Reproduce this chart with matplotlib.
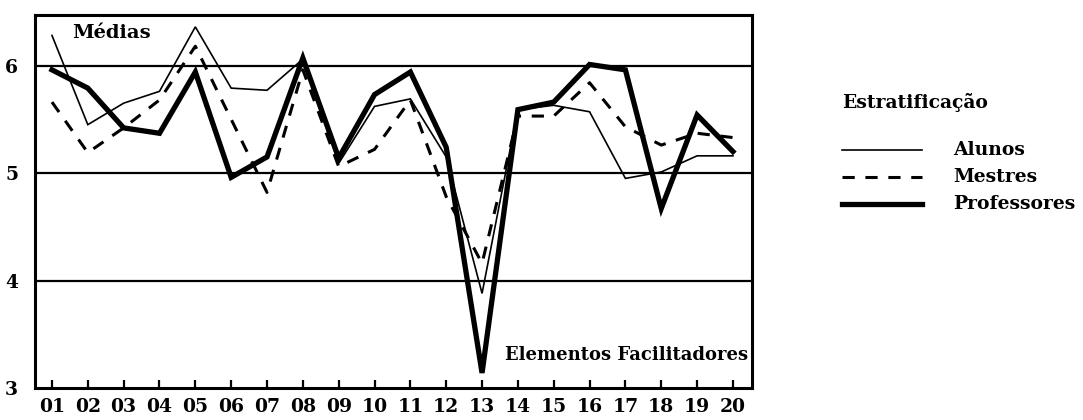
import matplotlib
matplotlib.use("Agg")
import matplotlib.pyplot as plt
from matplotlib.lines import Line2D

plt.rcParams['font.family'] = ['DejaVu Serif']

itens = ['01', '02', '03', '04', '05', '06', '07', '08', '09', '10',
         '11', '12', '13', '14', '15', '16', '17', '18', '19', '20']
alunos = [6.28, 5.45, 5.65, 5.76, 6.36, 5.79, 5.77, 6.06, 5.09, 5.62,
          5.69, 5.15, 3.88, 5.59, 5.63, 5.57, 4.95, 5.01, 5.16, 5.16]
mestres = [5.66, 5.19, 5.42, 5.68, 6.18, 5.50, 4.82, 5.96, 5.06, 5.22,
           5.68, 4.78, 4.16, 5.53, 5.53, 5.84, 5.43, 5.26, 5.37, 5.33]
professores = [5.96, 5.79, 5.42, 5.37, 5.94, 4.96, 5.15, 6.07, 5.14, 5.73,
               5.94, 5.24, 3.14, 5.59, 5.66, 6.01, 5.96, 4.67, 5.54, 5.20]

x = list(range(1, len(itens) + 1))

fig = plt.figure(figsize=(10.83, 4.2), dpi=100)
ax = fig.add_axes([0.0323, 0.0762, 0.662, 0.888])

for yv in [4, 5, 6]:
    ax.axhline(yv, color='k', lw=1.6, zorder=1)

estilos = [
    ('Alunos', alunos, dict(lw=1.2, ls='-')),
    ('Mestres', mestres, dict(lw=2.2, ls=(0, (4, 3.5)))),
    ('Professores', professores, dict(lw=3.8, ls='-')),
]
for nome, vals, st in estilos:
    ax.plot(x, vals, color='k', zorder=3, solid_joinstyle='miter', **st)

ax.set_xlim(0.526, 20.53)
ax.set_ylim(3, 6.47)
ax.set_xticks(x)
ax.set_xticklabels(itens)
ax.set_yticks([3, 4, 5, 6])
ax.tick_params(axis='x', direction='in', length=6, width=1.6, pad=7,
               labelsize=13.5)
ax.tick_params(axis='y', length=0, pad=12, labelsize=13.5)
for lab in ax.get_xticklabels() + ax.get_yticklabels():
    lab.set_fontweight('bold')
for sp in ax.spines.values():
    sp.set_linewidth(2.2)

ax.text(0.052, 0.952, 'Médias', transform=ax.transAxes, fontsize=14,
        fontweight='bold', ha='left', va='center')
ax.text(0.994, 0.088, 'Elementos Facilitadores', transform=ax.transAxes,
        fontsize=13, fontweight='bold', ha='right', va='center',
        bbox=dict(facecolor='white', edgecolor='none', pad=1), zorder=4)

# legenda manual
W, H = 1083, 420
fig.text(842 / W, 1 - 102 / H, 'Estratificação', fontsize=13.5,
         fontweight='bold', ha='left', va='center')
for i, (nome, vals, st) in enumerate(estilos):
    yy = 1 - (150 + 27 * i) / H
    fig.add_artist(Line2D([842 / W, 922 / W], [yy, yy], color='k',
                          transform=fig.transFigure, **st))
    fig.text(953 / W, yy, nome, fontsize=13.5, fontweight='bold',
             ha='left', va='center')

fig.savefig('out.png', dpi=100)
